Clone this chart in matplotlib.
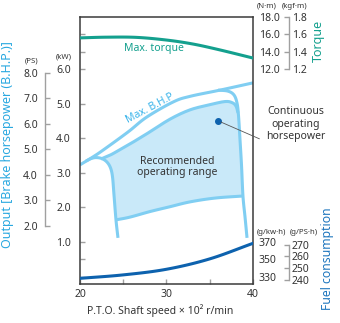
import matplotlib
matplotlib.use('Agg')
import numpy as np
import matplotlib.pyplot as plt

plt.rcParams['font.family'] = ['Noto Sans', 'DejaVu Sans']

# --- dados (x em x100 r/min, y em kW) ---
torque_rpm = [20, 23, 26.5, 30, 33, 36, 40]
torque_nm = [15.6, 15.68, 15.66, 15.35, 14.9, 14.25, 13.27]

fuel_rpm = [20, 25, 30, 35, 40]
fuel_gkwh = [328, 332, 338.5, 350.5, 368.5]

bhp_rpm = [20.0, 21.5, 22.69, 25.55, 27.71, 30.79, 32.72, 36.18, 40.0]
bhp_kw = [3.23, 3.46, 3.66, 4.18, 4.61, 5.05, 5.21, 5.39, 5.60]

# faixa recomendada: borda superior, lado direito, borda inferior, lado esquerdo
top_rpm = [22.43, 23.47, 24.28, 25.55, 27.86, 30.40, 32.72, 35.03, 36.76, 37.57, 38.03, 38.27]
top_kw = [3.40, 3.51, 3.62, 3.80, 4.15, 4.55, 4.82, 4.97, 5.06, 5.03, 4.93, 4.73]

right_rpm = [35.95, 37.11, 37.80, 38.15, 38.32, 38.50, 38.67, 38.84, 39.08, 39.31]
right_kw = [5.39, 5.36, 5.25, 5.02, 4.67, 3.95, 3.23, 2.33, 1.72, 1.12]

bottom_rpm = [24.16, 25.78, 28.09, 30.40, 32.72, 35.61, 38.84]
bottom_kw = [1.64, 1.72, 1.88, 2.02, 2.16, 2.27, 2.33]

left_rpm = [20.69, 21.27, 21.85, 22.54, 23.12, 23.53, 23.76, 23.93, 24.16, 24.39]
left_kw = [3.34, 3.41, 3.44, 3.41, 3.31, 3.14, 2.88, 2.36, 1.64, 1.12]

cont_point = (35.99, 4.50)

kw_ticks = [1, 2, 3, 4, 5, 6]
ps_ticks = [2, 3, 4, 5, 6, 7, 8]
nm_ticks = [12, 14, 16, 18]
kgf_ticks = [1.2, 1.4, 1.6, 1.8]
gkwh_ticks = [330, 350, 370]
gpsh_ticks = [240, 250, 260, 270]

# --- cores ---
teal = '#14a08e'
azul_claro = '#80cef2'
preenchimento = '#c9e9f9'
azul_escuro = '#0d62ae'
cinza = '#a0a0a0'
texto = '#333333'

KW_PS = 0.7355
ylo, yhi = -0.214, 7.503


def suave(xs, ys, n=12):
    # curva Catmull-Rom so para desenhar o traco sem quinas
    p = np.column_stack([xs, ys]).astype(float)
    p = np.vstack([2 * p[0] - p[1], p, 2 * p[-1] - p[-2]])
    t = np.linspace(0, 1, n, endpoint=False)[:, None]
    out = []
    for i in range(1, len(p) - 2):
        p0, p1, p2, p3 = p[i - 1], p[i], p[i + 1], p[i + 2]
        out.append(0.5 * (2 * p1 + (-p0 + p2) * t + (2 * p0 - 5 * p1 + 4 * p2 - p3) * t ** 2
                          + (-p0 + 3 * p1 - 3 * p2 + p3) * t ** 3))
    out.append(p[-2][None, :])
    out = np.vstack(out)
    return out[:, 0], out[:, 1]


fig = plt.figure(figsize=(3.4, 3.23), dpi=100)
ax = fig.add_axes([0.2353, 0.1207, 0.5088, 0.8266])
ax.set_xlim(20, 40)
ax.set_ylim(ylo, yhi)

# torque e combustivel convertidos para a escala em kW do eixo principal
torque_y = 6 + (np.array(torque_nm) - 12) * 0.25
fuel_y = (np.array(fuel_gkwh) - 330) / 40.0

# area recomendada
tx, ty = suave(top_rpm, top_kw)
rx, ry = suave(right_rpm[5:8], right_kw[5:8])
bx, by = suave(bottom_rpm[::-1], bottom_kw[::-1])
lx, ly = suave(left_rpm[::-1][2:6], left_kw[::-1][2:6])
ax.fill(np.r_[tx, rx, bx, lx], np.r_[ty, ry, by, ly], color=preenchimento, lw=0, zorder=1)

lw = 2.2
for xs, ys in [(bhp_rpm, bhp_kw), (top_rpm, top_kw), (right_rpm, right_kw),
               (bottom_rpm, bottom_kw), (left_rpm, left_kw)]:
    ax.plot(*suave(xs, ys), color=azul_claro, lw=lw, solid_capstyle='butt',
            solid_joinstyle='round', zorder=2)

ax.plot(*suave(torque_rpm, torque_y), color=teal, lw=lw, zorder=3)
ax.plot(*suave(fuel_rpm, fuel_y), color=azul_escuro, lw=lw, zorder=3)

# ponto de potencia continua e linha de chamada
ax.plot(*cont_point, 'o', color=azul_escuro, ms=4, zorder=4)
ax.annotate('', xy=cont_point, xytext=(41.04, 3.95),
            arrowprops=dict(arrowstyle='-', color='#555555', lw=0.6),
            annotation_clip=False, zorder=4)

ax.text(28.55, 6.58, 'Max. torque', color=teal, fontsize=7.5, ha='center', va='center')
ax.text(28.1, 4.87, 'Max. B.H.P', color='#3ab4ea', fontsize=7.5, ha='center',
        va='center', rotation=28)
ax.text(31.2, 3.17, 'Recommended\noperating range', color=texto, fontsize=7.5,
        ha='center', va='center', linespacing=1.1)
fig.text(296 / 340, 1 - 124 / 323, 'Continuous\noperating\nhorsepower', color=texto,
         fontsize=7.5, ha='center', va='center', linespacing=1.15)

# eixo principal (kW)
for s in ax.spines.values():
    s.set_color('#3a3a3a')
    s.set_linewidth(1.1)
ax.set_yticks([0, 0.5, 1, 2, 3, 4, 5, 6, 6.5, 7])
ax.set_yticklabels(['', '', '1.0', '2.0', '3.0', '4.0', '5.0', '6.0', '', ''])
ax.set_xticks([20, 30, 40])
ax.set_xticks([25, 35], minor=True)
ax.tick_params(axis='y', direction='in', left=True, right=True, length=3.6,
               width=1, color=cinza, labelsize=7.5, labelcolor=texto, pad=6.5)
ax.tick_params(axis='x', which='both', direction='in', length=3.6, width=1,
               color=cinza, labelsize=7.5, labelcolor=texto, pad=3.5)


def eixo_extra(lado, lim, ticks, fmt, bounds=None, outward=0, pad=3):
    a = ax.twinx()
    a.set_ylim(*lim)
    for s in a.spines.values():
        s.set_visible(False)
    if lado == 'left':
        a.yaxis.tick_left()
    else:
        a.yaxis.tick_right()
    a.set_yticks(ticks)
    a.set_yticklabels([fmt.format(t) for t in ticks])
    if bounds is not None:
        sp = a.spines[lado]
        sp.set_visible(True)
        sp.set_position(('outward', outward))
        sp.set_bounds(*bounds)
        sp.set_color(cinza)
        sp.set_linewidth(1)
        a.tick_params(axis='y', direction='in', length=3.6, width=1, color=cinza,
                      labelsize=7.5, labelcolor=texto, pad=pad)
    else:
        a.tick_params(axis='y', length=0, labelsize=7.5, labelcolor=texto, pad=pad)
    return a


eixo_extra('left', (ylo / KW_PS, yhi / KW_PS), ps_ticks, '{:.1f}',
           bounds=(2, 8), outward=25.2, pad=5)
nm_lim = (12 + (ylo - 6) * 4, 12 + (yhi - 6) * 4)
eixo_extra('right', nm_lim, nm_ticks, '{:.1f}', pad=4.3)
eixo_extra('right', (nm_lim[0] / 10, nm_lim[1] / 10), kgf_ticks, '{:.1f}',
           bounds=(1.2, 1.8), outward=26, pad=2)
g_lim = (330 + 40 * ylo, 330 + 40 * yhi)
eixo_extra('right', g_lim, gkwh_ticks, '{:.0f}', pad=4.3)
eixo_extra('right', (g_lim[0] * KW_PS, g_lim[1] * KW_PS), gpsh_ticks, '{:.0f}',
           bounds=(240, 270), outward=26, pad=2)

# unidades e titulos dos eixos
W, H = 340, 323
for x, y, s in [(31.5, 61, '(PS)'), (64, 57, '(kW)'), (267, 6, '(N·m)'),
                (295, 6, '(kgf·m)'), (271, 232, '(g/kw·h)'), (304, 233, '(g/PS·h)')]:
    fig.text(x / W, 1 - y / H, s, fontsize=5.6, color=texto, ha='center', va='center')

fig.text(8 / W, 1 - 145 / H, 'Output [Brake horsepower (B.H.P.)]', rotation=90,
         color='#29a8e0', fontsize=9, ha='center', va='center')
fig.text(318 / W, 1 - 41 / H, 'Torque', rotation=90, color=teal, fontsize=9,
         ha='center', va='center')
fig.text(327 / W, 1 - 259 / H, 'Fuel consumption', rotation=90, color='#1e76be',
         fontsize=8.8, ha='center', va='center')
fig.text(160 / W, 1 - 311 / H, 'P.T.O. Shaft speed × 10² r/min', color=texto,
         fontsize=7.5, ha='center', va='center')

fig.savefig('out.png', dpi=100)
